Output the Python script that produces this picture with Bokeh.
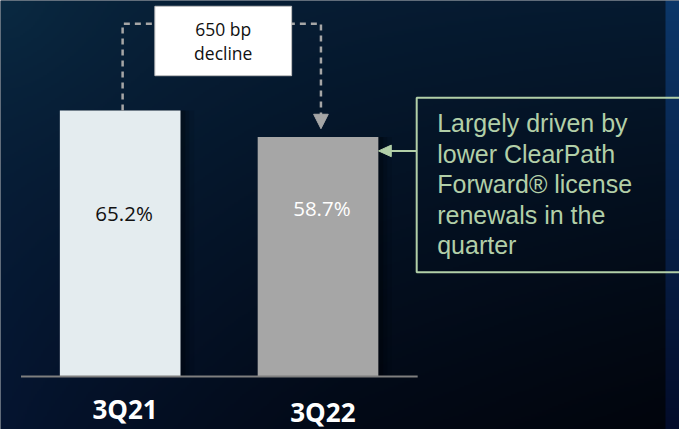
import numpy as np
from bokeh.plotting import figure
from bokeh.models import Range1d
from bokeh.core.properties import value
from bokeh.embed import file_html
from bokeh.resources import INLINE

# ---- data ----
categories = ["3Q21", "3Q22"]
margins = [65.2, 58.7]
value_labels = ["65.2%", "58.7%"]
bar_colors = ["#e4ecef", "#a6a6a6"]
value_label_colors = ["#111111", "#ffffff"]
change_text = ["650 bp", "decline"]
note_lines = ["Largely driven by", "lower ClearPath", "Forward\u00ae license",
              "renewals in the", "quarter"]

# ---- layout helpers (reference pixel -> data) ----
W, H = 679, 429
BASE = 390.0          # px of the zero line
S = 4.233             # px per percentage point
X0, U = 122.5, 202.5  # px of first category centre, px per category step


def xv(px):
    return (px - X0) / U


def yv(py):
    return (BASE - py) / S


idx = np.arange(len(categories), dtype=float)
vals = np.array(margins)

p = figure(width=W, height=H, x_range=Range1d(xv(0), xv(695)),
           y_range=Range1d(yv(445), yv(0)), output_backend="svg",
           toolbar_location=None, x_axis_location=None, y_axis_location=None,
           min_border=0, outline_line_color=None)
p.grid.visible = False
p.background_fill_color = "#041429"
p.border_fill_color = "#041429"

# ---- background gradient ----
gw, gh = 348, 223
gx = np.linspace(0, 1, gw)
gy = np.linspace(0, 1, gh)
GX, GY = np.meshgrid(gx, gy)
tl = np.array([6, 28, 52.0]); tr = np.array([6, 26, 48.0])
bl = np.array([5, 20, 48.0]); br = np.array([2, 6, 16.0])
GXp = GX ** 0.8
col = ((1 - GXp)[..., None] * (1 - GY)[..., None] * tl + GXp[..., None] * (1 - GY)[..., None] * tr
       + (1 - GXp)[..., None] * GY[..., None] * bl + GXp[..., None] * GY[..., None] * br)
# teal glow in the top-left corner
glow = np.exp(-np.sqrt((GX * 695) ** 2 + (GY * 445) ** 2) / 160.0)
col += glow[..., None] * np.array([4, 14, 14.0])
# darker band towards the lower middle
col *= (1 - 0.25 * GY * np.clip(GX * 2, 0, 1))[..., None]
strip = GX >= 681 / 695
st_top = np.array([12, 55, 105.0]); st_bot = np.array([3, 12, 42.0])
stc = (1 - GY)[..., None] * st_top + GY[..., None] * st_bot
col[strip] = stc[strip]
col = np.clip(col, 0, 255)
img = np.empty((gh, gw), dtype=np.uint32)
view = img.view(dtype=np.uint8).reshape((gh, gw, 4))
view[..., 0] = col[..., 0]
view[..., 1] = col[..., 1]
view[..., 2] = col[..., 2]
view[..., 3] = 255
p.image_rgba(image=[img[::-1]], x=xv(0), y=yv(445), dw=xv(695) - xv(0), dh=yv(0) - yv(445))

# ---- bar shadows ----
bw = 123.5 / U
for off, a in [(14, 0.08), (9, 0.12), (5, 0.2)]:
    p.vbar(x=idx + off / U, top=vals, bottom=0, width=bw, fill_color="black",
           fill_alpha=a, line_color=None)

# ---- bars ----
p.vbar(x=idx, top=vals, bottom=0, width=bw, fill_color=bar_colors, line_color=None)

# ---- baseline ----
p.line(x=[xv(21), xv(427)], y=[0, 0], line_color="#7f7f7f", line_width=2)

# ---- value labels ----
p.text(x=idx + 4 / U, y=[yv(220.8), yv(215)], text=value_labels,
       text_color=value_label_colors, text_font=value("Open Sans"),
       text_font_size="20.5px", text_align="center", text_baseline="middle")

# ---- category labels ----
p.text(x=idx + 5 / U, y=[yv(424), yv(427)], text=categories, text_color="white",
       text_font=value("Open Sans"), text_font_style="bold", text_font_size="26px",
       text_align="center", text_baseline="middle")

# ---- dashed bracket ----
gray = "#a6a6a6"
xl, xr = idx[0] + 2.5 / U, idx[1] + 3 / U
ytop = yv(24)
p.line(x=[xl, xl, xr, xr], y=[vals[0], ytop, ytop, yv(119)], line_color=gray,
       line_width=2.5, line_dash="6 5")
p.patch(x=[xr - 7.5 / U, xr + 7.5 / U, xr], y=[yv(118), yv(118), yv(133)],
        fill_color=gray, line_color=gray)

# ---- change box ----
p.quad(left=xv(158), right=xv(298), top=yv(6), bottom=yv(78), fill_color="white",
       line_color="#bfbfbf", line_width=1)
p.text(x=[xv(228), xv(228)], y=[yv(29.7), yv(54.5)], text=change_text, text_color="#111111",
       text_font=value("Open Sans"), text_font_size="17.5px", text_align="center",
       text_baseline="middle")

# ---- callout ----
green = "#b2cfa8"
p.quad(left=xv(426), right=xv(705), top=yv(101), bottom=yv(282), fill_alpha=0,
       line_color=green, line_width=2)
p.line(x=[xv(426), xv(398)], y=[yv(156), yv(156)], line_color=green, line_width=2)
p.patch(x=[xv(387), xv(400), xv(400)], y=[yv(156), yv(150), yv(162)],
        fill_color=green, line_color=green)
centres = [127.5, 159.1, 190.8, 222.4, 254.0]
p.text(x=[xv(447)] * len(note_lines), y=[yv(c) for c in centres], text=note_lines,
       text_color=green, text_font=value("Liberation Sans"), text_font_size="25px",
       text_align="left", text_baseline="middle")

open("out.html", "w").write(file_html(p, INLINE))
